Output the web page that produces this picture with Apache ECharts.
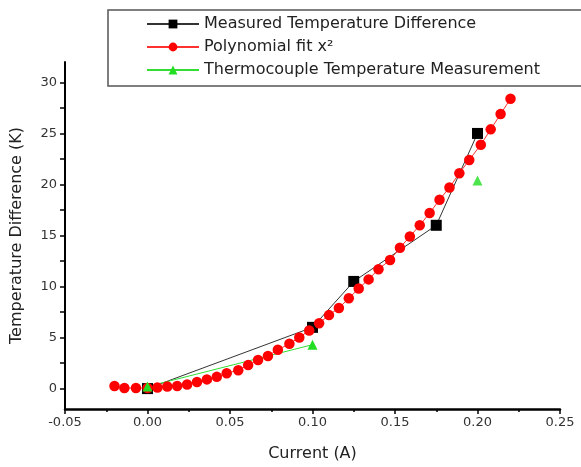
<!DOCTYPE html>
<html>
<head>
<meta charset="utf-8">
<script src="https://cdn.jsdelivr.net/npm/echarts@6/dist/echarts.min.js"></script>
<style>
  html, body { margin: 0; padding: 0; background: #fff; }
  #chart { width: 581px; height: 467px; }
</style>
</head>
<body>
<div id="chart"></div>
<script>
// data
var measuredX = [0, 0.1, 0.125, 0.175, 0.2];
var measuredY = [0, 6.0, 10.5, 16.0, 25.0];

var fitX = [-0.020, -0.014, -0.007, 0.000, 0.006, 0.012, 0.018, 0.024, 0.030, 0.036,
            0.042, 0.048, 0.055, 0.061, 0.067, 0.073, 0.079, 0.086, 0.092, 0.098,
            0.104, 0.110, 0.116, 0.122, 0.128, 0.134, 0.140, 0.147, 0.153, 0.159,
            0.165, 0.171, 0.177, 0.183, 0.189, 0.195, 0.202, 0.208, 0.214, 0.220];
var fitY = [0.25, 0.05, 0.05, 0.05, 0.1, 0.2, 0.25, 0.4, 0.65, 0.9,
            1.15, 1.5, 1.8, 2.3, 2.8, 3.2, 3.8, 4.4, 5.0, 5.7,
            6.4, 7.2, 7.9, 8.85, 9.8, 10.7, 11.7, 12.6, 13.8, 14.9,
            16.0, 17.2, 18.5, 19.7, 21.1, 22.4, 23.9, 25.4, 26.9, 28.4];

// the last thermocouple point is not joined to the others
var thermoX = [0, 0.1];
var thermoY = [0.2, 4.3];
var thermoLoneX = [0.2];
var thermoLoneY = [20.4];

var yLabels = [0, 5, 10, 15, 20, 25, 30];
var yTicks = [0, 2.5, 5, 7.5, 10, 12.5, 15, 17.5, 20, 22.5, 25, 27.5, 30];

var names = ["Measured Temperature Difference", "Polynomial fit x\u00b2", "Thermocouple Temperature Measurement"];

function pairs(xs, ys) {
  return xs.map(function (x, i) { return [x, ys[i]]; });
}

var myChart = echarts.init(document.getElementById("chart"));
var font = "DejaVu Sans, sans-serif";

var option = {
  animation: false,
  textStyle: { fontFamily: font },
  grid: { left: 65, right: 21, top: 62, bottom: 57 },
  graphic: [
    {
      type: "rect",
      shape: { x: 108, y: 10, width: 490, height: 76 },
      style: { fill: "#fff", stroke: "#555", lineWidth: 1.5 },
      z: 50
    }
  ],
  legend: {
    orient: "vertical",
    left: 141,
    top: 11,
    itemWidth: 52,
    itemHeight: 11,
    itemGap: 7,
    z: 60,
    textStyle: { fontSize: 16, color: "#222", fontFamily: font },
    data: names
  },
  xAxis: {
    type: "value",
    min: -0.05,
    max: 0.25,
    interval: 0.05,
    name: "Current (A)",
    nameLocation: "middle",
    nameGap: 37,
    nameTextStyle: { fontSize: 16, color: "#222" },
    axisLine: { onZero: false, lineStyle: { color: "#000", width: 2.5 } },
    axisTick: { length: 5, lineStyle: { color: "#000", width: 1.5 } },
    minorTick: { show: true, splitNumber: 2, length: 3, lineStyle: { color: "#000", width: 1.5 } },
    axisLabel: {
      fontSize: 13, color: "#333", margin: 7,
      formatter: function (v) { return v.toFixed(2); }
    },
    splitLine: { show: false }
  },
  yAxis: {
    type: "value",
    min: -2,
    max: 32,
    name: "Temperature Difference (K)",
    nameLocation: "middle",
    nameGap: 40,
    nameTextStyle: { fontSize: 16, color: "#222" },
    axisLine: { onZero: false, lineStyle: { color: "#000", width: 2 } },
    axisTick: { length: 5, customValues: yTicks, lineStyle: { color: "#000", width: 1.5 } },
    axisLabel: { fontSize: 13, color: "#333", margin: 8, customValues: yLabels },
    splitLine: { show: false }
  },
  series: [
    {
      name: names[0],
      type: "line",
      data: pairs(measuredX, measuredY),
      symbol: "rect",
      symbolSize: 11,
      itemStyle: { color: "#000" },
      lineStyle: { color: "#333", width: 1 }
    },
    {
      name: names[1],
      type: "line",
      data: pairs(fitX, fitY),
      symbol: "circle",
      symbolSize: 10.5,
      itemStyle: { color: "#ff0000" },
      lineStyle: { color: "#ff3030", width: 1 }
    },
    {
      name: names[2],
      type: "line",
      data: pairs(thermoX, thermoY),
      symbol: "triangle",
      symbolSize: 10,
      itemStyle: { color: "#22dd22" },
      lineStyle: { color: "#33dd33", width: 1 }
    },
    {
      name: names[2],
      type: "scatter",
      data: pairs(thermoLoneX, thermoLoneY),
      symbol: "triangle",
      symbolSize: 10,
      itemStyle: { color: "#22dd22" }
    }
  ]
};

myChart.setOption(option);
</script>
</body>
</html>
